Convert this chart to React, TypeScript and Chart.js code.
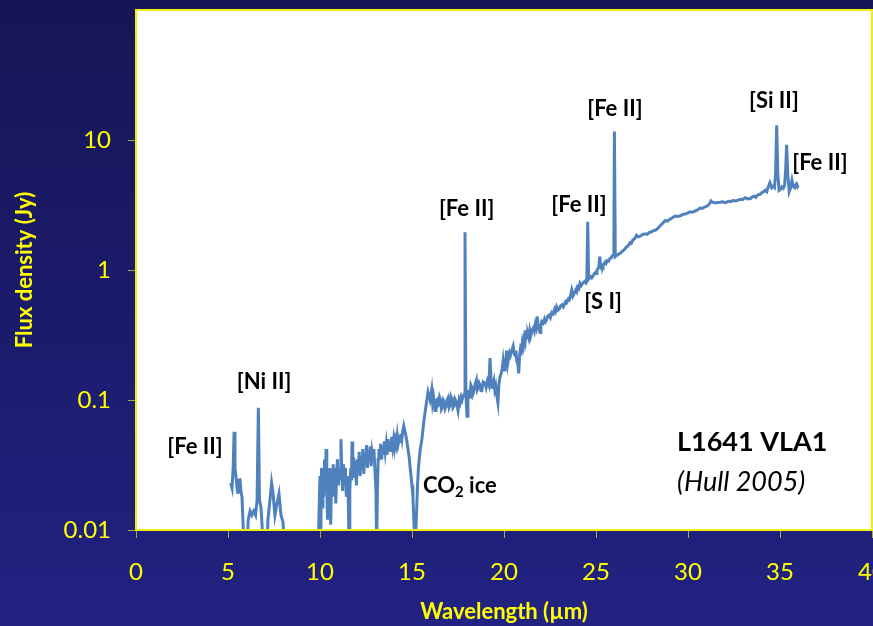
import React, { useEffect, useRef } from 'react';
import { Chart, registerables } from 'chart.js';

Chart.register(...registerables);

// Spitzer IRS spectrum of L1641 VLA1: wavelength (µm) and flux density (Jy).
// Values under 0.01 Jy fall below the plotted range and are clipped.
const wavelength = [
  5.15, 5.22, 5.28, 5.33, 5.38, 5.43, 5.49, 5.54, 5.60, 5.65,
  5.70, 5.76, 5.80, 5.86, 5.95, 6.05, 6.10, 6.20, 6.30, 6.40,
  6.50, 6.58, 6.65, 6.71, 6.79, 6.85, 6.92, 7.10, 7.17, 7.28,
  7.37, 7.45, 7.55, 7.66, 7.77, 7.88, 7.99, 8.10, 9.00, 9.89,
  9.95, 10.00, 10.04, 10.08, 10.12, 10.16, 10.20, 10.25, 10.30, 10.33,
  10.37, 10.41, 10.45, 10.50, 10.54, 10.58, 10.63, 10.68, 10.72, 10.77,
  10.82, 10.86, 10.90, 10.95, 11.00, 11.05, 11.10, 11.14, 11.18, 11.23,
  11.28, 11.33, 11.38, 11.43, 11.48, 11.53, 11.58, 11.62, 11.67, 11.71,
  11.74, 11.78, 11.83, 11.88, 11.93, 11.98, 12.03, 12.08, 12.13, 12.18,
  12.23, 12.28, 12.33, 12.38, 12.43, 12.48, 12.53, 12.58, 12.63, 12.68,
  12.73, 12.78, 12.83, 12.88, 12.93, 12.98, 13.04, 13.08, 13.12, 13.16,
  13.20, 13.25, 13.30, 13.35, 13.40, 13.45, 13.50, 13.55, 13.60, 13.65,
  13.70, 13.75, 13.80, 13.85, 13.90, 13.95, 14.00, 14.05, 14.10, 14.15,
  14.20, 14.25, 14.30, 14.35, 14.40, 14.45, 14.50, 14.55, 14.60, 14.65,
  14.70, 14.75, 14.80, 14.85, 14.90, 14.95, 15.00, 15.05, 15.10, 15.15,
  15.20, 15.25, 15.30, 15.35, 15.40, 15.45, 15.54, 15.65, 15.76, 15.87,
  15.98, 16.07, 16.12, 16.17, 16.25, 16.30, 16.35, 16.40, 16.45, 16.50,
  16.55, 16.60, 16.65, 16.70, 16.75, 16.80, 16.85, 16.90, 16.96, 17.02,
  17.07, 17.12, 17.17, 17.22, 17.28, 17.33, 17.39, 17.45, 17.50, 17.56,
  17.61, 17.67, 17.72, 17.78, 17.83, 17.88, 17.93, 17.99, 18.04, 18.10,
  18.15, 18.20, 18.25, 18.30, 18.35, 18.42, 18.50, 18.55, 18.60, 18.65,
  18.70, 18.75, 18.80, 18.87, 18.97, 19.03, 19.10, 19.18, 19.24, 19.30,
  19.35, 19.40, 19.45, 19.50, 19.55, 19.60, 19.67, 19.72, 19.78, 19.85,
  19.90, 19.95, 20.00, 20.05, 20.10, 20.14, 20.20, 20.25, 20.30, 20.35,
  20.42, 20.50, 20.55, 20.60, 20.65, 20.69, 20.75, 20.80, 20.85, 20.90,
  20.95, 21.00, 21.05, 21.10, 21.15, 21.20, 21.25, 21.30, 21.35, 21.40,
  21.45, 21.50, 21.55, 21.60, 21.65, 21.70, 21.75, 21.80, 21.85, 21.90,
  21.96, 22.00, 22.05, 22.12, 22.20, 22.25, 22.30, 22.37, 22.45, 22.52,
  22.60, 22.67, 22.75, 22.80, 22.86, 22.93, 23.00, 23.07, 23.15, 23.22,
  23.30, 23.35, 23.40, 23.45, 23.50, 23.55, 23.60, 23.68, 23.75, 23.82,
  23.90, 23.95, 24.00, 24.07, 24.13, 24.20, 24.25, 24.32, 24.40, 24.45,
  24.50, 24.55, 24.60, 24.65, 24.70, 24.77, 24.84, 24.90, 24.95, 25.00,
  25.05, 25.10, 25.15, 25.20, 25.25, 25.28, 25.33, 25.38, 25.44, 25.50,
  25.55, 25.60, 25.68, 25.75, 25.82, 25.90, 25.97, 26.00, 26.05, 26.10,
  26.15, 26.22, 26.30, 26.40, 26.50, 26.57, 26.65, 26.75, 26.85, 26.92,
  27.00, 27.10, 27.20, 27.30, 27.40, 27.52, 27.66, 27.78, 27.90, 28.00,
  28.10, 28.20, 28.30, 28.40, 28.50, 28.62, 28.75, 28.88, 29.00, 29.15,
  29.30, 29.45, 29.60, 29.72, 29.85, 29.97, 30.10, 30.25, 30.40, 30.52,
  30.65, 30.78, 30.90, 31.00, 31.10, 31.18, 31.25, 31.32, 31.40, 31.50,
  31.60, 31.75, 31.90, 32.00, 32.10, 32.20, 32.30, 32.45, 32.60, 32.72,
  32.85, 32.97, 33.10, 33.25, 33.40, 33.50, 33.60, 33.68, 33.75, 33.85,
  33.95, 34.03, 34.10, 34.20, 34.28, 34.35, 34.45, 34.55, 34.62, 34.70,
  34.76, 34.82, 34.88, 34.95, 35.05, 35.10, 35.18, 35.25, 35.31, 35.36,
  35.42, 35.50, 35.58, 35.65, 35.72, 35.80, 35.85, 35.90, 35.95, 35.98,
];

const flux = [
  0.023, 0.021, 0.030, 0.057, 0.030, 0.026, 0.021, 0.019, 0.024, 0.025,
  0.020, 0.018, 0.013, 0.008, 0.006, 0.008, 0.012, 0.014, 0.013, 0.014,
  0.013, 0.017, 0.087, 0.017, 0.015, 0.011, 0.007, 0.006, 0.012, 0.017,
  0.023, 0.019, 0.013, 0.016, 0.019, 0.013, 0.0115, 0.006, 0.006, 0.006,
  0.014, 0.026, 0.008, 0.030, 0.015, 0.027, 0.018, 0.035, 0.022, 0.042,
  0.020, 0.012, 0.028, 0.018, 0.030, 0.011, 0.025, 0.020, 0.032, 0.018,
  0.030, 0.016, 0.027, 0.035, 0.022, 0.030, 0.025, 0.050, 0.028, 0.020,
  0.032, 0.022, 0.030, 0.018, 0.026, 0.020, 0.007, 0.020, 0.030, 0.024,
  0.048, 0.030, 0.036, 0.025, 0.034, 0.022, 0.035, 0.028, 0.040, 0.026,
  0.036, 0.030, 0.042, 0.027, 0.038, 0.032, 0.045, 0.030, 0.040, 0.034,
  0.044, 0.031, 0.040, 0.036, 0.042, 0.030, 0.020, 0.007, 0.020, 0.035,
  0.042, 0.036, 0.046, 0.035, 0.044, 0.038, 0.048, 0.040, 0.046, 0.038,
  0.050, 0.042, 0.047, 0.040, 0.052, 0.044, 0.050, 0.043, 0.049, 0.045,
  0.053, 0.046, 0.050, 0.048, 0.055, 0.050, 0.058, 0.063, 0.058, 0.055,
  0.050, 0.045, 0.040, 0.036, 0.030, 0.026, 0.022, 0.018, 0.012, 0.008,
  0.009, 0.014, 0.022, 0.030, 0.036, 0.042, 0.050, 0.070, 0.090, 0.115,
  0.100, 0.120, 0.095, 0.105, 0.083, 0.098, 0.100, 0.090, 0.092, 0.105,
  0.100, 0.085, 0.088, 0.100, 0.097, 0.086, 0.090, 0.100, 0.104, 0.088,
  0.092, 0.105, 0.100, 0.087, 0.090, 0.102, 0.098, 0.090, 0.083, 0.100,
  0.095, 0.105, 0.100, 0.108, 0.110, 1.950, 0.110, 0.075, 0.120, 0.105,
  0.110, 0.130, 0.125, 0.110, 0.115, 0.130, 0.142, 0.120, 0.125, 0.135,
  0.130, 0.118, 0.120, 0.138, 0.135, 0.125, 0.140, 0.130, 0.210, 0.140,
  0.125, 0.130, 0.140, 0.120, 0.128, 0.110, 0.095, 0.130, 0.150, 0.160,
  0.175, 0.200, 0.170, 0.180, 0.200, 0.240, 0.190, 0.210, 0.230, 0.220,
  0.240, 0.260, 0.230, 0.220, 0.240, 0.200, 0.190, 0.160, 0.220, 0.250,
  0.240, 0.280, 0.260, 0.300, 0.280, 0.345, 0.300, 0.320, 0.300, 0.340,
  0.310, 0.330, 0.350, 0.360, 0.340, 0.380, 0.360, 0.440, 0.380, 0.380,
  0.330, 0.370, 0.400, 0.390, 0.420, 0.400, 0.410, 0.440, 0.450, 0.430,
  0.470, 0.460, 0.500, 0.480, 0.520, 0.490, 0.500, 0.530, 0.540, 0.520,
  0.550, 0.570, 0.560, 0.580, 0.600, 0.590, 0.620, 0.700, 0.630, 0.660,
  0.700, 0.680, 0.740, 0.720, 0.790, 0.760, 0.780, 0.800, 0.820, 0.800,
  0.840, 2.350, 0.850, 0.870, 0.890, 0.870, 0.900, 0.930, 0.950, 0.940,
  1.000, 1.020, 1.050, 1.270, 1.080, 1.050, 1.080, 1.060, 1.120, 1.150,
  1.130, 1.180, 1.170, 1.220, 1.240, 1.290, 1.300, 11.60, 1.270, 1.290,
  1.300, 1.320, 1.340, 1.380, 1.420, 1.450, 1.500, 1.540, 1.620, 1.600,
  1.700, 1.740, 1.850, 1.800, 1.820, 1.870, 1.900, 1.880, 1.950, 1.960,
  2.000, 2.020, 2.050, 2.120, 2.200, 2.280, 2.400, 2.380, 2.450, 2.520,
  2.600, 2.580, 2.620, 2.680, 2.700, 2.740, 2.800, 2.780, 2.850, 2.900,
  3.000, 2.980, 3.050, 3.080, 3.150, 3.250, 3.400, 3.330, 3.300, 3.280,
  3.300, 3.320, 3.350, 3.300, 3.320, 3.380, 3.350, 3.420, 3.400, 3.450,
  3.500, 3.480, 3.600, 3.520, 3.550, 3.650, 3.700, 3.620, 3.750, 3.800,
  3.850, 3.950, 4.000, 4.100, 4.000, 4.300, 4.700, 4.300, 4.400, 4.300,
  5.500, 13.00, 5.500, 4.100, 4.200, 4.350, 4.250, 4.500, 6.000, 9.200,
  5.500, 4.000, 4.300, 4.900, 4.400, 4.300, 4.500, 4.600, 4.400, 4.500,
];

// Axis ticks
const yTickValues = [0.01, 0.1, 1, 10];
const yTickLabels = ['0.01', '0.1', '1', '10'];
const xTickStep = 5;

// Emission line identifications, placed in data coordinates
const lineLabels = ['[Fe II]', '[Ni II]', '[Fe II]', '[Fe II]', '[S I]', '[Fe II]', '[Si II]', '[Fe II]'];
const lineLabelX = [3.21, 6.96, 17.97, 24.08, 25.38, 26.03, 34.67, 37.17];
const lineLabelY = [0.0435, 0.137, 2.95, 3.16, 0.568, 17.3, 19.95, 6.71];

// CO2 ice absorption label and source caption
const iceLabelPos = [15.6, 0.0218];
const sourceName = 'L1641 VLA1';
const sourceRef = '(Hull 2005)';
const sourcePos = [29.4, 0.0475];
const refPos = [29.4, 0.0234];

const FONT = '"Lato", "DejaVu Sans", sans-serif';
const YELLOW = '#ffff00';

const slideDecor = {
  id: 'slideDecor',
  beforeDraw(chart: any) {
    const { ctx, chartArea: a } = chart;
    ctx.save();
    ctx.fillStyle = '#ffffff';
    ctx.fillRect(a.left, a.top, a.right - a.left, a.bottom - a.top);
    ctx.restore();
  },
  afterDatasetsDraw(chart: any) {
    const { ctx, chartArea: a, scales } = chart;
    const xs = scales.x;
    const ys = scales.y;
    ctx.save();
    ctx.fillStyle = '#000000';
    ctx.textBaseline = 'middle';

    ctx.textAlign = 'center';
    ctx.font = `bold 22px ${FONT}`;
    lineLabels.forEach((t, i) => {
      ctx.fillText(t, xs.getPixelForValue(lineLabelX[i]), ys.getPixelForValue(lineLabelY[i]));
    });

    // CO2 ice with a subscript 2
    ctx.textAlign = 'left';
    let ix = xs.getPixelForValue(iceLabelPos[0]);
    const iy = ys.getPixelForValue(iceLabelPos[1]);
    ctx.font = `bold 22px ${FONT}`;
    ctx.fillText('CO', ix, iy);
    ix += ctx.measureText('CO').width;
    ctx.font = `bold 15px ${FONT}`;
    ctx.fillText('2', ix, iy + 6);
    ix += ctx.measureText('2').width;
    ctx.font = `bold 22px ${FONT}`;
    ctx.fillText(' ice', ix, iy);

    ctx.font = `bold 27px ${FONT}`;
    ctx.fillText(sourceName, xs.getPixelForValue(sourcePos[0]), ys.getPixelForValue(sourcePos[1]));
    ctx.font = `italic 27px ${FONT}`;
    ctx.fillText(sourceRef, xs.getPixelForValue(refPos[0]), ys.getPixelForValue(refPos[1]));

    // Plot frame
    ctx.strokeStyle = '#eeee10';
    ctx.lineWidth = 2;
    ctx.strokeRect(a.left, a.top, a.right - a.left, a.bottom - a.top);
    ctx.restore();
  },
};

export default function App() {
  const canvasRef = useRef<HTMLCanvasElement | null>(null);

  useEffect(() => {
    if (!canvasRef.current) return;
    const points = wavelength.map((w, i) => ({ x: w, y: flux[i] }));
    const chart = new Chart(canvasRef.current, {
      type: 'line',
      data: {
        datasets: [
          {
            data: points,
            borderColor: '#4f81bd',
            borderWidth: 3,
            pointRadius: 0,
            tension: 0,
            clip: 0,
          } as any,
        ],
      },
      options: {
        animation: false,
        responsive: false,
        layout: { padding: { top: 10, right: 1, left: 0, bottom: 0 } },
        plugins: { legend: { display: false }, tooltip: { enabled: false } },
        scales: {
          x: {
            type: 'linear',
            min: 0,
            max: 40,
            ticks: {
              stepSize: xTickStep,
              color: YELLOW,
              padding: 20,
              maxRotation: 0,
              autoSkip: false,
              font: { family: FONT, size: 24 },
            },
            grid: { display: true, drawOnChartArea: false, drawTicks: true, tickLength: 8, tickColor: '#a8a840' },
            border: { display: false },
            title: {
              display: true,
              text: 'Wavelength (µm)',
              color: YELLOW,
              font: { family: FONT, size: 22, weight: 'bold' },
              padding: { top: 0, bottom: 1 },
            },
            afterFit: (scale: any) => {
              scale.height = 96;
              scale.paddingLeft = 0;
              scale.paddingRight = 0;
            },
          },
          y: {
            type: 'logarithmic',
            min: 0.01,
            max: 100,
            afterBuildTicks: (scale: any) => {
              scale.ticks = yTickValues.map((v) => ({ value: v }));
            },
            ticks: {
              color: YELLOW,
              padding: 17,
              autoSkip: false,
              font: { family: FONT, size: 24 },
              callback: (_v: any, i: number) => yTickLabels[i],
            },
            grid: { display: true, drawOnChartArea: false, drawTicks: true, tickLength: 8, tickColor: '#a8a840' },
            border: { display: false },
            title: {
              display: true,
              text: 'Flux density (Jy)',
              color: YELLOW,
              font: { family: FONT, size: 22, weight: 'bold' },
              padding: { top: 12, bottom: 0 },
            },
            afterFit: (scale: any) => {
              scale.width = 136;
              scale.paddingTop = 0;
              scale.paddingBottom = 0;
            },
          },
        },
      } as any,
      plugins: [slideDecor],
    });
    return () => chart.destroy();
  }, []);

  return (
    <div
      style={{
        position: 'fixed',
        left: 0,
        top: 0,
        width: 873,
        height: 626,
        background: 'linear-gradient(to bottom, #161656 0%, #1b1b6c 50%, #222282 100%)',
      }}
    >
      <canvas ref={canvasRef} width={873} height={626} style={{ display: 'block' }} />
    </div>
  );
}
